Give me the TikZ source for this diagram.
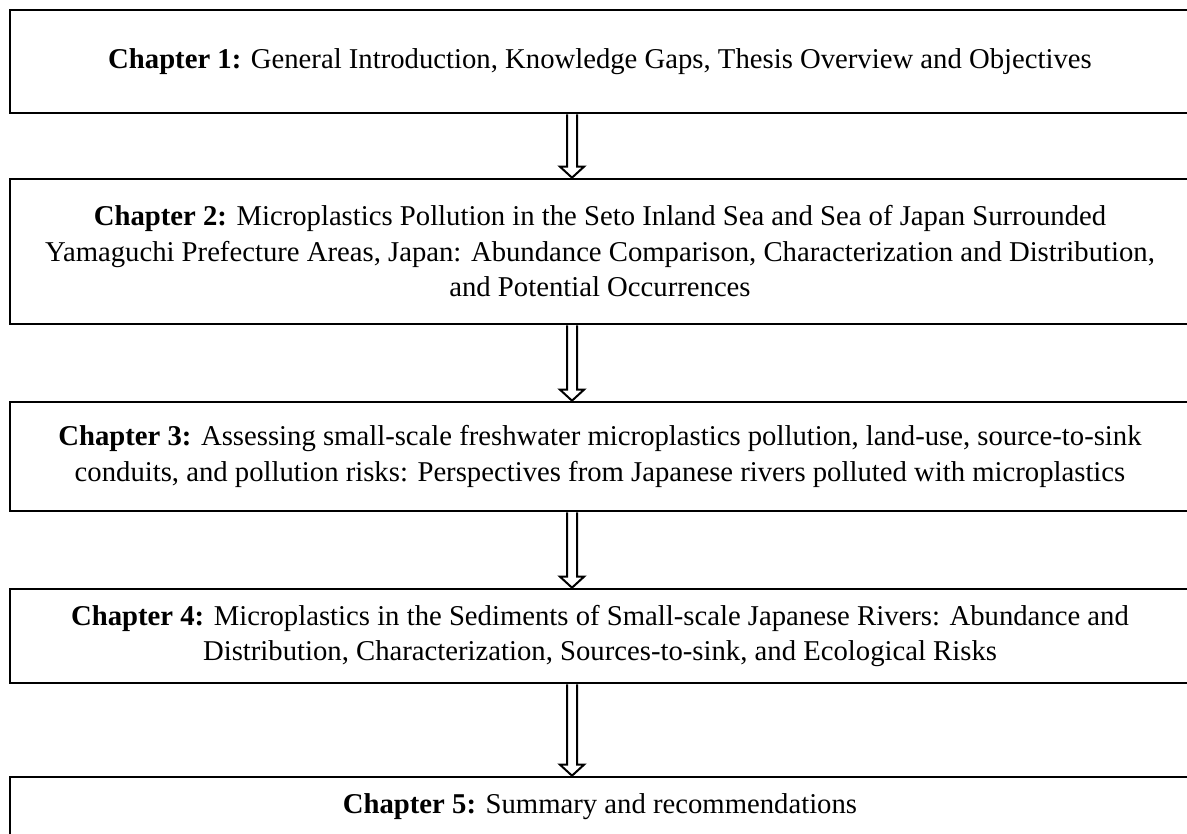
\documentclass[tikz,border=0pt]{standalone}
\usepackage{fontspec}
\setmainfont{Liberation Serif}
\usetikzlibrary{calc}
\begin{document}
\begin{tikzpicture}[x=1pt,y=-1pt,
  chapbox/.style={draw, line width=2.6pt, rectangle, minimum width=1180pt, inner sep=0pt, align=center, font=\fontsize{28.7}{35.5}\selectfont},
  flowarrow/.style={draw, line width=2pt, fill=white, line join=miter}]
\useasboundingbox (0,0) rectangle (1187,834);
\node[chapbox, minimum height=103pt] (b1) at (600,61.5) {\textbf{Chapter 1:} General Introduction, Knowledge Gaps, Thesis Overview and Objectives};
\node[chapbox, minimum height=145pt] (b2) at (600,251.5) {\textbf{Chapter 2:} Microplastics Pollution in the Seto Inland Sea and Sea of Japan Surrounded\\Yamaguchi Prefecture Areas, Japan: Abundance Comparison, Characterization and Distribution,\\and Potential Occurrences};
\node[chapbox, minimum height=109pt] (b3) at (600,456.5) {\textbf{Chapter 3:} Assessing small-scale freshwater microplastics pollution, land-use, source-to-sink\\conduits, and pollution risks: Perspectives from Japanese rivers polluted with microplastics};
\node[chapbox, minimum height=94pt] (b4) at (600,636) {\textbf{Chapter 4:} Microplastics in the Sediments of Small-scale Japanese Rivers: Abundance and\\Distribution, Characterization, Sources-to-sink, and Ecological Risks};
\node[chapbox, minimum height=59pt] (b5) at (600,806.5) {\textbf{Chapter 5:} Summary and recommendations};
\foreach \a/\b in {b1/b2,b2/b3,b3/b4,b4/b5} {
  \draw[flowarrow] ($(\a.south)+(-33,0)$) -- ($(\b.north)+(-33,-11)$) -- ($(\b.north)+(-40,-11)$) -- ($(\b.north)+(-28,0)$) -- ($(\b.north)+(-16,-11)$) -- ($(\b.north)+(-23,-11)$) -- ($(\a.south)+(-23,0)$);
}
\end{tikzpicture}
\end{document}
